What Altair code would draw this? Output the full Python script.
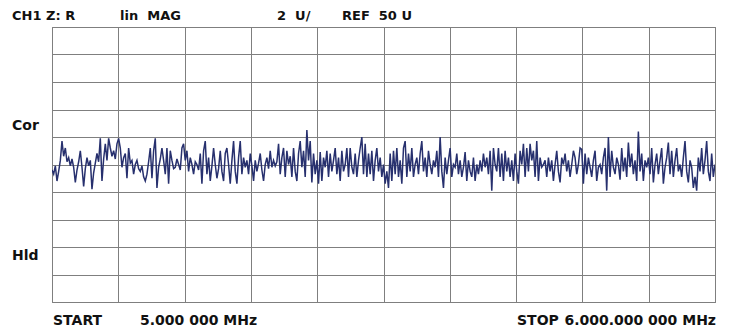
import altair as alt
import pandas as pd

# Trace values (U), read left to right across the sweep 5.0 -> 6.0 MHz
seg1 = [49.6, 49.3, 49.9, 48.8, 49.5, 50.3, 51.7, 50.6, 51.2, 50.2, 50.5, 49.9, 50.4, 49.8, 48.7,
        49.6, 50.2, 51.0, 49.8, 48.4, 49.7, 50.5, 49.9, 50.3, 48.2, 49.4, 50.1, 50.8, 50.2, 51.9,
        48.8, 50.4, 51.5, 50.3, 51.9, 51.2, 50.6, 51.0, 50.4, 51.5, 51.9, 51.2, 49.8, 50.5, 50.8,
        49.0, 51.2, 50.1, 50.3, 49.3, 50.0, 50.3, 49.7, 49.5, 49.9, 49.1, 48.8, 49.3, 50.2, 51.2,
        49.0, 51.0, 51.9, 48.3, 49.8, 50.4, 51.2, 50.3, 49.3, 51.2, 48.6, 51.0, 50.3, 49.7, 49.8,
        50.4, 50.0, 49.6, 51.2, 51.5, 50.3, 51.0, 49.5, 50.5, 50.0, 49.3, 50.2, 50.0, 49.6, 50.8,
        48.6, 51.0, 51.7, 49.3, 50.5, 48.8, 49.9, 51.2, 50.0, 49.0, 49.7, 51.0, 49.5, 48.8, 50.8,
        51.2, 50.0, 48.6, 50.3, 51.7, 49.5, 48.6, 50.5, 51.7, 49.3, 50.5, 49.8, 50.3, 49.3, 50.8,
        49.9, 48.8, 50.3, 49.5, 50.1, 50.8, 49.6, 48.8, 50.0, 50.5, 49.7, 51.0, 49.8, 50.3, 49.9]
seg2 = [50.2, 51.5, 49.3, 50.5, 51.2, 49.1, 51.0, 50.0, 50.6, 49.1, 51.2, 49.5, 48.8, 50.8, 51.7,
        49.8, 51.0, 49.1, 52.5, 50.3, 51.7, 48.7, 50.8, 49.3, 50.3, 48.6, 50.9, 48.8, 50.5, 49.8,
        51.0, 49.1, 50.8, 49.5, 50.3, 51.2, 49.3, 50.5, 48.8, 51.0, 49.5, 50.0, 51.2, 49.1, 51.2,
        49.8, 49.3, 50.8, 49.1, 50.3, 51.2, 52.0, 49.3, 51.5, 49.1, 50.8, 49.3, 51.0, 48.8, 50.3,
        51.2, 49.5, 50.5, 49.1, 50.0, 48.6, 49.5, 48.3, 50.8, 48.8, 51.0, 49.3, 51.2, 49.1, 50.3,
        48.6, 51.2, 51.7, 49.1, 50.8, 49.5, 51.2, 49.1, 50.0, 50.5, 49.3, 50.8, 51.7, 49.5, 50.5,
        49.1, 51.0, 50.0, 49.3, 50.3, 49.8, 51.0, 49.1, 52.0, 49.5, 48.3, 50.5, 49.3, 50.3, 51.2,
        49.1, 50.0, 49.8, 50.8, 49.3, 50.3, 49.1, 49.8, 50.9, 48.8, 50.3, 49.5, 49.1, 50.5, 48.8,
        50.0, 49.3, 50.3, 49.5, 50.8, 49.8, 50.5, 49.3, 51.0, 48.1, 51.2, 50.0]
seg3 = [49.5, 51.2, 49.1, 50.8, 48.8, 51.0, 49.5, 50.5, 49.1, 50.3, 48.8, 50.8, 49.5, 48.6, 51.0,
        50.0, 51.5, 49.1, 51.2, 49.5, 51.5, 50.3, 51.0, 49.1, 51.7, 48.8, 50.5, 49.8, 50.0, 50.3,
        49.1, 50.5, 49.5, 50.3, 48.8, 50.0, 51.0, 49.5, 48.7, 50.5, 50.0, 50.8, 49.5, 50.3, 49.1,
        50.0, 51.0, 50.5, 49.3, 50.0, 51.2, 51.1, 48.6, 50.8, 49.3, 50.5, 49.8, 49.1, 50.3, 51.0,
        48.8, 49.8, 50.0, 49.3, 50.5, 51.2, 48.1, 52.0, 49.1, 51.0, 49.8, 49.3, 50.5, 50.0, 48.9,
        51.2, 49.5, 50.5, 49.1, 51.6, 49.8, 50.8, 49.3, 50.3, 48.8, 52.4, 49.5, 50.8, 48.8, 50.3,
        49.8, 50.5, 49.3, 51.2, 48.7, 50.0, 50.8, 49.3, 50.3, 51.2, 48.6, 49.8, 50.5, 51.6, 49.3,
        51.0, 49.1, 50.3, 51.2, 49.5, 50.0, 49.1, 50.5, 51.7, 49.5, 48.7, 50.3, 49.8, 48.3, 49.1,
        48.1, 50.5, 49.5, 51.2, 49.3, 50.3, 51.7, 49.5, 48.8, 50.8, 49.1, 50.0]

values = seg1 + seg2 + seg3
start_mhz = 5.0
stop_mhz = 6.0
n = len(values)
freqs = [start_mhz + (stop_mhz - start_mhz) * i / (n - 1) for i in range(n)]

x_grid = [5.0, 5.1, 5.2, 5.3, 5.4, 5.5, 5.6, 5.7, 5.8, 5.9, 6.0]
y_grid = [40, 42, 44, 46, 48, 50, 52, 54, 56, 58, 60]

df = pd.DataFrame({"f": freqs, "v": values})

FONT = "DejaVu Sans"
NB = "\u00a0"

x_enc = alt.X("f:Q", scale=alt.Scale(domain=[5.0, 6.0], nice=False, zero=False),
              axis=alt.Axis(values=x_grid, labels=False, ticks=False, domain=False, title=None,
                            grid=True, gridColor="#7f7f7f", gridWidth=1, gridOpacity=1))
y_enc = alt.Y("v:Q", scale=alt.Scale(domain=[40, 60], nice=False, zero=False),
              axis=alt.Axis(values=y_grid, labels=False, ticks=False, domain=False, title=None,
                            grid=True, gridColor="#7f7f7f", gridWidth=1, gridOpacity=1))

trace = alt.Chart(df).mark_line(color="#27306e", strokeWidth=1.5, clip=True).encode(x=x_enc, y=y_enc)


def label(text, x, y, align="left", size=14):
    return alt.Chart(pd.DataFrame({"t": [text]})).mark_text(
        font=FONT, fontSize=size, fontWeight="bold", color="#111111", align=align,
        baseline="alphabetic").encode(text="t:N", x=alt.value(x), y=alt.value(y))


labels = [
    label("CH1" + NB + "Z: R", -40, -7, size=13),
    label("lin" + NB + " MAG", 68, -7, size=13),
    label("2" + NB + " U/", 225, -7, size=13),
    label("REF" + NB + " 50 U", 290, -7, size=13),
    label("Cor", -40, 103),
    label("Hld", -40, 233),
    label("START", 1, 298),
    label("5.000 000" + NB + "MHz", 88, 298),
    label("STOP", 465, 298),
    label("6.000.000 000" + NB + "MHz", 664, 298, align="right"),
]

chart = alt.layer(trace, *labels).properties(
    width=663, height=275,
    autosize=alt.AutoSizeParams(type="none"),
    padding={"left": 44, "top": 19, "right": 8, "bottom": 28},
    background="white",
).configure_view(stroke="#6f6f6f", strokeWidth=1)

chart.save("out.html", embed_options={"renderer": "svg", "actions": False})
